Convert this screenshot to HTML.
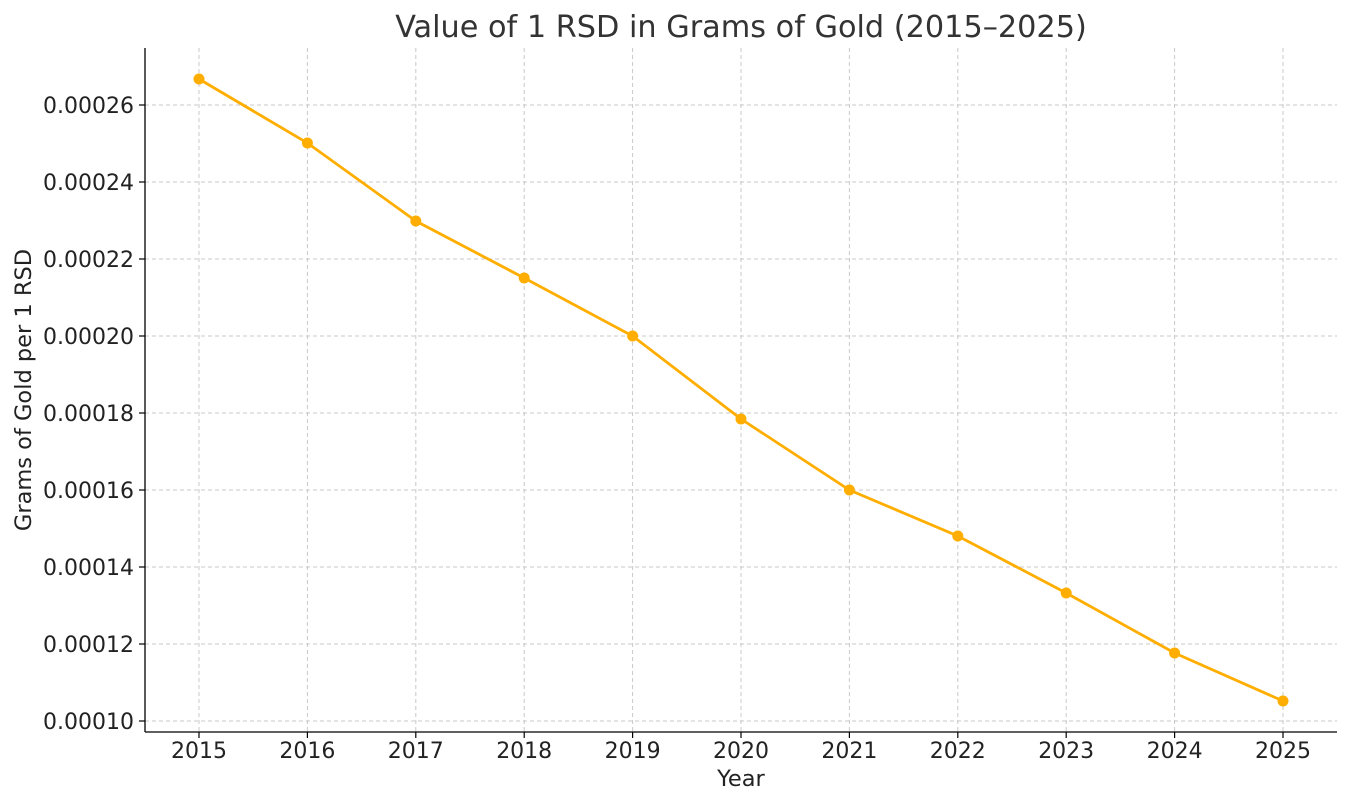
<!DOCTYPE html>
<html><head><meta charset="utf-8"><style>
html,body{margin:0;padding:0;background:#fff;}
svg{display:block;font-family:"DejaVu Sans","Liberation Sans",sans-serif;}
</style></head><body>
<svg width="1350" height="805" viewBox="0 0 1350 805" xmlns="http://www.w3.org/2000/svg">
<rect width="1350" height="805" fill="#fff"/>
<g stroke="#c8c8c8" stroke-width="1" stroke-dasharray="4,3">
<line x1="199" y1="48" x2="199" y2="732"/>
<line x1="307.4" y1="48" x2="307.4" y2="732"/>
<line x1="415.8" y1="48" x2="415.8" y2="732"/>
<line x1="524.2" y1="48" x2="524.2" y2="732"/>
<line x1="632.6" y1="48" x2="632.6" y2="732"/>
<line x1="741" y1="48" x2="741" y2="732"/>
<line x1="849.4" y1="48" x2="849.4" y2="732"/>
<line x1="957.8" y1="48" x2="957.8" y2="732"/>
<line x1="1066.2" y1="48" x2="1066.2" y2="732"/>
<line x1="1174.6" y1="48" x2="1174.6" y2="732"/>
<line x1="1283" y1="48" x2="1283" y2="732"/>
<line x1="145" y1="721" x2="1337" y2="721"/>
<line x1="145" y1="644" x2="1337" y2="644"/>
<line x1="145" y1="567" x2="1337" y2="567"/>
<line x1="145" y1="490" x2="1337" y2="490"/>
<line x1="145" y1="413" x2="1337" y2="413"/>
<line x1="145" y1="336" x2="1337" y2="336"/>
<line x1="145" y1="259" x2="1337" y2="259"/>
<line x1="145" y1="182" x2="1337" y2="182"/>
<line x1="145" y1="105" x2="1337" y2="105"/>
</g>
<g stroke="#000" stroke-width="1.3">
<line x1="145" y1="48" x2="145" y2="732"/>
<line x1="145" y1="732" x2="1337" y2="732"/>
</g>
<g stroke="#000" stroke-width="1.2">
<line x1="199" y1="732" x2="199" y2="738"/><line x1="307.4" y1="732" x2="307.4" y2="738"/><line x1="415.8" y1="732" x2="415.8" y2="738"/><line x1="524.2" y1="732" x2="524.2" y2="738"/><line x1="632.6" y1="732" x2="632.6" y2="738"/><line x1="741" y1="732" x2="741" y2="738"/><line x1="849.4" y1="732" x2="849.4" y2="738"/><line x1="957.8" y1="732" x2="957.8" y2="738"/><line x1="1066.2" y1="732" x2="1066.2" y2="738"/><line x1="1174.6" y1="732" x2="1174.6" y2="738"/><line x1="1283" y1="732" x2="1283" y2="738"/>
<line x1="139" y1="721" x2="145" y2="721"/><line x1="139" y1="644" x2="145" y2="644"/><line x1="139" y1="567" x2="145" y2="567"/><line x1="139" y1="490" x2="145" y2="490"/><line x1="139" y1="413" x2="145" y2="413"/><line x1="139" y1="336" x2="145" y2="336"/><line x1="139" y1="259" x2="145" y2="259"/><line x1="139" y1="182" x2="145" y2="182"/><line x1="139" y1="105" x2="145" y2="105"/>
</g>
<g font-size="22" fill="#222" text-anchor="middle">
<text x="199" y="758">2015</text><text x="307.4" y="758">2016</text><text x="415.8" y="758">2017</text><text x="524.2" y="758">2018</text><text x="632.6" y="758">2019</text><text x="741" y="758">2020</text><text x="849.4" y="758">2021</text><text x="957.8" y="758">2022</text><text x="1066.2" y="758">2023</text><text x="1174.6" y="758">2024</text><text x="1283" y="758">2025</text>
</g>
<g font-size="22" fill="#222" text-anchor="end">
<text x="134" y="729">0.00010</text><text x="134" y="652">0.00012</text><text x="134" y="575">0.00014</text><text x="134" y="498">0.00016</text><text x="134" y="421">0.00018</text><text x="134" y="344">0.00020</text><text x="134" y="267">0.00022</text><text x="134" y="190">0.00024</text><text x="134" y="113">0.00026</text>
</g>
<text x="741" y="786" font-size="22.5" fill="#222" text-anchor="middle">Year</text>
<text transform="translate(31,390) rotate(-90)" font-size="22.5" fill="#222" text-anchor="middle">Grams of Gold per 1 RSD</text>
<text x="741" y="37" font-size="30.3" fill="#333" text-anchor="middle">Value of 1 RSD in Grams of Gold (2015–2025)</text>
<polyline fill="none" stroke="#FFAE00" stroke-width="2.8" points="199,79 307.4,143 415.8,221 524.2,278 632.6,336 741,419 849.4,490 957.8,536 1066.2,593 1174.6,653 1283,701"/>
<g fill="#FFAE00">
<circle cx="199" cy="79" r="5.5"/><circle cx="307.4" cy="143" r="5.5"/><circle cx="415.8" cy="221" r="5.5"/><circle cx="524.2" cy="278" r="5.5"/><circle cx="632.6" cy="336" r="5.5"/><circle cx="741" cy="419" r="5.5"/><circle cx="849.4" cy="490" r="5.5"/><circle cx="957.8" cy="536" r="5.5"/><circle cx="1066.2" cy="593" r="5.5"/><circle cx="1174.6" cy="653" r="5.5"/><circle cx="1283" cy="701" r="5.5"/>
</g>
</svg>
</body></html>
